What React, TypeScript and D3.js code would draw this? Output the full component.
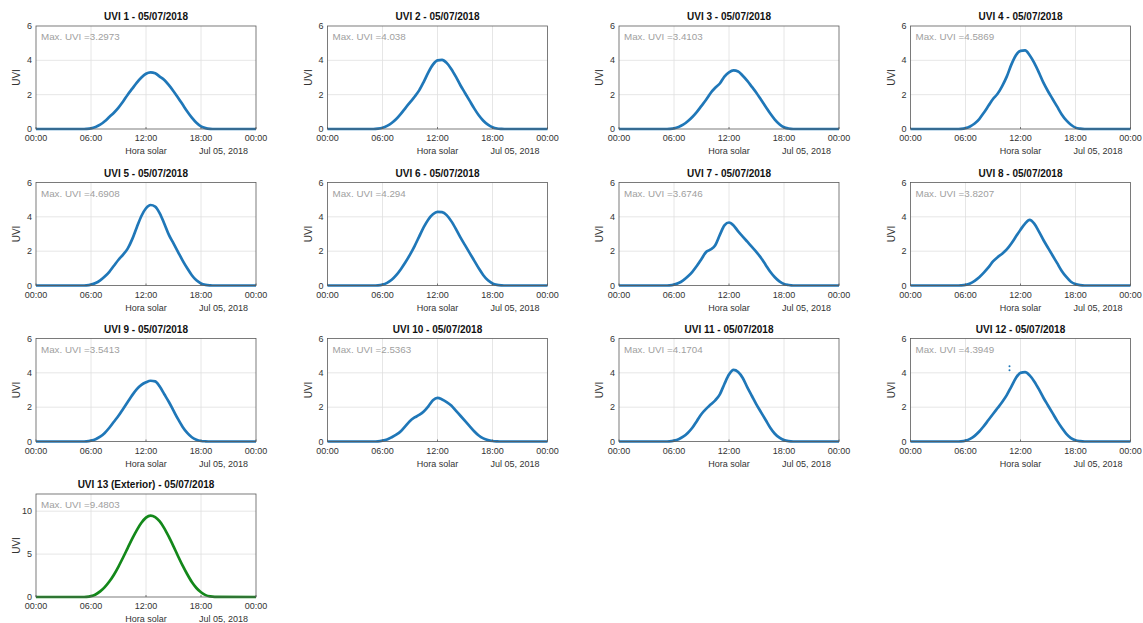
import { useEffect, useRef } from 'react'
import * as d3 from 'd3'

// hora solar (h) shared by every sensor
const hours = [0, 4.5, 5,
    5.5, 6, 6.5, 7, 7.5, 8, 8.5, 9, 9.5, 10,
    10.5, 11, 11.5, 12, 12.5, 13, 13.5, 14, 14.5, 15,
    15.5, 16, 16.5, 17, 17.5, 18, 18.5, 19, 19.5,
    24]

const uvi1 = [0, 0, 0,
    0.01, 0.04, 0.12, 0.25, 0.45, 0.7, 0.95, 1.25, 1.6, 2.0,
    2.35, 2.7, 3.0, 3.22, 3.3, 3.25, 3.05, 2.85, 2.55, 2.2,
    1.82, 1.42, 1.02, 0.66, 0.36, 0.15, 0.05, 0.01, 0,
    0]
const uvi2 = [0, 0, 0,
    0.02, 0.07, 0.18, 0.35, 0.58, 0.88, 1.22, 1.55, 1.88, 2.25,
    2.75, 3.3, 3.75, 4.0, 4.03, 3.85, 3.5, 3.05, 2.55, 2.1,
    1.65, 1.2, 0.8, 0.48, 0.25, 0.1, 0.03, 0.01, 0,
    0]
const uvi3 = [0, 0, 0,
    0.01, 0.04, 0.12, 0.25, 0.45, 0.7, 1.0, 1.35, 1.7, 2.1,
    2.4, 2.65, 3.05, 3.3, 3.41, 3.35, 3.1, 2.8, 2.45, 2.1,
    1.7, 1.3, 0.9, 0.55, 0.28, 0.1, 0.03, 0, 0,
    0]
const uvi4 = [0, 0, 0,
    0.01, 0.05, 0.15, 0.32, 0.58, 0.95, 1.35, 1.75, 2.05, 2.5,
    3.05, 3.75, 4.3, 4.55, 4.58, 4.3, 3.85, 3.3, 2.7, 2.2,
    1.75, 1.3, 0.85, 0.5, 0.25, 0.08, 0.02, 0, 0,
    0]
const uvi5 = [0, 0, 0,
    0.01, 0.05, 0.14, 0.3, 0.52, 0.8, 1.15, 1.5, 1.8, 2.15,
    2.7, 3.4, 4.05, 4.5, 4.69, 4.6, 4.2, 3.6, 2.95, 2.45,
    1.95, 1.45, 1.0, 0.6, 0.3, 0.12, 0.04, 0.01, 0,
    0]
const uvi6 = [0, 0, 0,
    0.01, 0.05, 0.15, 0.33, 0.6, 0.95, 1.35, 1.8, 2.3, 2.85,
    3.4, 3.85, 4.15, 4.29, 4.27, 4.1, 3.75, 3.3, 2.8, 2.35,
    1.9, 1.45, 1.0, 0.6, 0.3, 0.12, 0.04, 0.01, 0,
    0]
const uvi7 = [0, 0, 0,
    0.01, 0.05, 0.14, 0.3, 0.52, 0.8, 1.15, 1.55, 1.95, 2.1,
    2.35, 2.95, 3.5, 3.67, 3.5, 3.15, 2.85, 2.55, 2.25, 1.95,
    1.6, 1.2, 0.8, 0.48, 0.24, 0.09, 0.03, 0, 0,
    0]
const uvi8 = [0, 0, 0,
    0.01, 0.04, 0.12, 0.27, 0.48, 0.75, 1.05, 1.4, 1.65, 1.85,
    2.1, 2.45, 2.85, 3.25, 3.6, 3.82, 3.6, 3.15, 2.65, 2.2,
    1.75, 1.3, 0.85, 0.5, 0.22, 0.08, 0.02, 0, 0,
    0]
const uvi9 = [0, 0, 0,
    0.01, 0.05, 0.13, 0.28, 0.5, 0.8, 1.15, 1.5, 1.9, 2.3,
    2.7, 3.05, 3.3, 3.45, 3.54, 3.5, 3.2, 2.75, 2.3, 1.8,
    1.3, 0.85, 0.5, 0.25, 0.1, 0.03, 0.01, 0, 0,
    0]
const uvi10 = [0, 0, 0,
    0.01, 0.05, 0.12, 0.25, 0.4, 0.6, 0.9, 1.2, 1.4, 1.55,
    1.75, 2.05, 2.4, 2.54, 2.45, 2.3, 2.1, 1.8, 1.5, 1.2,
    0.9, 0.6, 0.35, 0.18, 0.08, 0.03, 0.01, 0, 0,
    0]
const uvi11 = [0, 0, 0,
    0.01, 0.05, 0.13, 0.28, 0.5, 0.8, 1.2, 1.6, 1.9, 2.15,
    2.4, 2.75, 3.35, 3.9, 4.17, 4.05, 3.7, 3.15, 2.65, 2.15,
    1.7, 1.25, 0.8, 0.45, 0.22, 0.08, 0.02, 0, 0,
    0]
const uvi12 = [0, 0, 0,
    0.01, 0.05, 0.15, 0.33, 0.58, 0.9, 1.25, 1.6, 1.95, 2.3,
    2.7, 3.2, 3.7, 4.0, 4.04, 3.85, 3.5, 3.05, 2.55, 2.1,
    1.65, 1.2, 0.8, 0.45, 0.2, 0.07, 0.02, 0, 0,
    0]
const uvi13 = [0, 0, 0,
    0.02, 0.1, 0.3, 0.65, 1.15, 1.8, 2.6, 3.55, 4.6, 5.7,
    6.8, 7.8, 8.65, 9.25, 9.48, 9.3, 8.8, 8.0, 7.0, 5.9,
    4.75, 3.65, 2.65, 1.75, 1.05, 0.55, 0.22, 0.07, 0.02,
    0]

// stray samples seen in sensor 12
const strayHours12 = [10.8, 10.8]
const strayValues12 = [4.39, 4.15]

const series = [uvi1, uvi2, uvi3, uvi4, uvi5, uvi6, uvi7, uvi8, uvi9, uvi10, uvi11, uvi12, uvi13]
const titles = ['UVI 1', 'UVI 2', 'UVI 3', 'UVI 4', 'UVI 5', 'UVI 6', 'UVI 7', 'UVI 8', 'UVI 9',
    'UVI 10', 'UVI 11', 'UVI 12', 'UVI 13 (Exterior)']
const maxLabels = ['3.2973', '4.038', '3.4103', '4.5869', '4.6908', '4.294', '3.6746', '3.8207',
    '3.5413', '2.5363', '4.1704', '4.3949', '9.4803']
const dateTitle = '05/07/2018'
const dateLabel = 'Jul 05, 2018'
const xTicks = [0, 6, 12, 18, 24]
const xTickLabels = ['00:00', '06:00', '12:00', '18:00', '00:00']
const yTicksIndoor = [0, 2, 4, 6]
const yTicksOutdoor = [0, 5, 10]

const FONT = '"Liberation Sans", Arial, Helvetica, sans-serif'

function App() {
    const ref = useRef<SVGSVGElement>(null)

    useEffect(() => {
        const svg = d3.select(ref.current)
        svg.selectAll('*').remove()

        const w = 220
        const h = 103
        const colX = [36, 327.5, 619, 910.5]
        const rowY = [26, 182.5, 338.5, 494]

        series.forEach((values, i) => {
            const exterior = i === 12
            const left = colX[i % 4]
            const top = rowY[Math.floor(i / 4)]
            const yMax = exterior ? 12 : 6
            const yTicks = exterior ? yTicksOutdoor : yTicksIndoor
            const color = exterior ? '#13881a' : '#1f77b8'

            const x = d3.scaleLinear().domain([0, 24]).range([0, w])
            const y = d3.scaleLinear().domain([0, yMax]).range([h, 0])

            const g = svg.append('g').attr('transform', `translate(${left}, ${top})`)

            g.append('rect')
                .attr('width', w)
                .attr('height', h)
                .attr('fill', 'white')

            // grid
            g.selectAll('.gx')
                .data(xTicks.slice(1, -1))
                .join('line')
                .attr('x1', d => x(d))
                .attr('x2', d => x(d))
                .attr('y1', 0)
                .attr('y2', h)
                .attr('stroke', '#e0e0e0')
                .attr('stroke-width', 0.8)
            g.selectAll('.gy')
                .data(yTicks.filter(d => d > 0 && d < yMax))
                .join('line')
                .attr('x1', 0)
                .attr('x2', w)
                .attr('y1', d => y(d))
                .attr('y2', d => y(d))
                .attr('stroke', '#e0e0e0')
                .attr('stroke-width', 0.8)

            const line = d3
                .line<number>()
                .x((_, k) => x(hours[k]))
                .y(d => y(d))
                .curve(d3.curveMonotoneX)

            g.append('path')
                .datum(values)
                .attr('d', line)
                .attr('fill', 'none')
                .attr('stroke', color)
                .attr('stroke-width', 2.7)
                .attr('stroke-linejoin', 'round')

            if (i === 11) {
                g.selectAll('.stray')
                    .data(strayValues12)
                    .join('circle')
                    .attr('cx', (_, k) => x(strayHours12[k]))
                    .attr('cy', d => y(d))
                    .attr('r', 1)
                    .attr('fill', color)
            }

            // box
            g.append('rect')
                .attr('width', w)
                .attr('height', h)
                .attr('fill', 'none')
                .attr('stroke', '#5a5a5a')
                .attr('stroke-width', 0.8)

            // x axis
            const xa = g.append('g').attr('transform', `translate(0, ${h})`)
            xa.selectAll('text')
                .data(xTicks)
                .join('text')
                .attr('x', d => x(d))
                .attr('y', 12)
                .attr('text-anchor', 'middle')
                .attr('font-size', 9)
                .attr('fill', '#333')
                .text((_, k) => xTickLabels[k])
            xa.selectAll('line')
                .data(xTicks)
                .join('line')
                .attr('x1', d => x(d))
                .attr('x2', d => x(d))
                .attr('y1', 0)
                .attr('y2', -2)
                .attr('stroke', '#5a5a5a')
                .attr('stroke-width', 0.8)

            // y axis
            g.selectAll('.yt')
                .data(yTicks)
                .join('text')
                .attr('x', -4)
                .attr('y', d => y(d) + 3)
                .attr('text-anchor', 'end')
                .attr('font-size', 9)
                .attr('fill', '#333')
                .text(d => String(d))

            g.append('text')
                .attr('transform', `translate(-16, ${h / 2}) rotate(-90)`)
                .attr('text-anchor', 'middle')
                .attr('font-size', 10)
                .attr('fill', '#333')
                .text('UVI')

            g.append('text')
                .attr('x', w / 2)
                .attr('y', h + 25)
                .attr('text-anchor', 'middle')
                .attr('font-size', 9)
                .attr('fill', '#333')
                .text('Hora solar')

            g.append('text')
                .attr('x', w - 8)
                .attr('y', h + 25)
                .attr('text-anchor', 'end')
                .attr('font-size', 9)
                .attr('fill', '#333')
                .text(dateLabel)

            g.append('text')
                .attr('x', w / 2)
                .attr('y', -6)
                .attr('text-anchor', 'middle')
                .attr('font-size', 10)
                .attr('font-weight', 'bold')
                .attr('fill', '#111')
                .text(`${titles[i]} - ${dateTitle}`)

            g.append('text')
                .attr('x', 5)
                .attr('y', 14)
                .attr('font-size', 9.8)
                .attr('fill', '#a0a0a0')
                .text(`Max. UVI =${maxLabels[i]}`)
        })

        svg.selectAll('text').attr('font-family', FONT)
    })

    return (
        <svg
            ref={ref}
            width={1143}
            height={623}
            style={{ position: 'absolute', left: 0, top: 0, background: 'white' }}
        />
    )
}

export default App
